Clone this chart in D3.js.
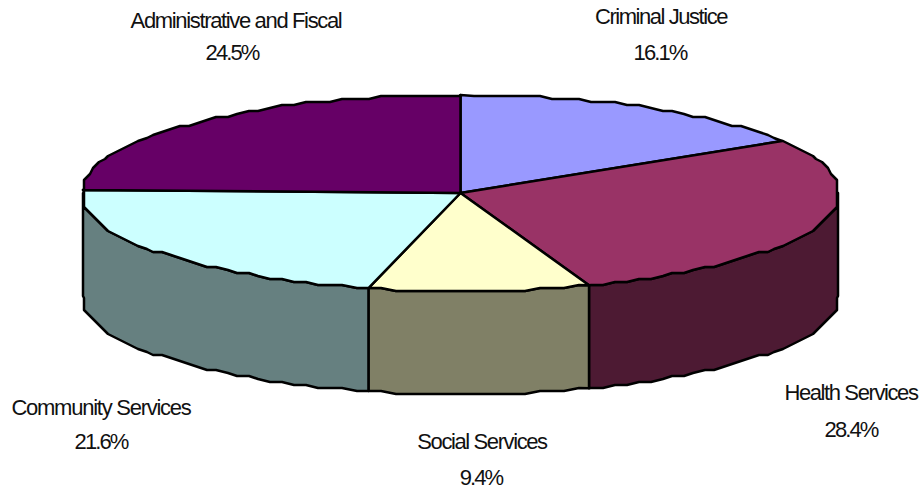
<!DOCTYPE html>
<html>
<head>
<meta charset="utf-8">
<style>
html,body{margin:0;padding:0;background:#fff}
svg{display:block}
text{font-family:"Liberation Sans",Arial,sans-serif;font-size:22px;fill:#111;text-anchor:middle}
</style>
<script src="https://cdn.jsdelivr.net/npm/d3@7"></script>
</head>
<body>
<svg id="chart" width="924" height="491"></svg>
<script>
// Spending shares by programme area, clockwise from twelve o'clock
const categories = ["Criminal Justice", "Health Services", "Social Services", "Community Services", "Administrative and Fiscal"];
const shares = [16.1, 28.4, 9.4, 21.6, 24.5];
const topColors = ["#9999ff", "#993366", "#ffffcc", "#ccffff", "#660066"];
const wallColors = ["#4d4d80", "#4d1a33", "#808066", "#668080", "#330033"];

// Label placement: centre x for each line, baselines, spacing tweaks
const labelX = [661, 851, 482, 101, 236];
const valueX = [660, 851, 481, 101, 232];
const labelY1 = [24, 400, 449, 415, 28];
const labelY2 = [60, 437, 485, 449, 60];
const labelSpacing = [-1.45, -1.4, -1.4, -1.25, -1.35];
const valueSpacing = -1.9;

const svg = d3.select("#chart");
const wallDepth = 103;
const rimWidth = 2.5;

// Unit circle projected to a flattened ellipse; the clamp gives the flat sides
const sx = d3.scaleLinear().domain([-0.995, 0.995]).range([83, 838]).clamp(true);
const sy = d3.scaleLinear().domain([-1, 1]).range([95, 291]);

const pie = d3.pie().sort(null).value(d => d);
const arcs = pie(shares);

// Coarse coordinates leave the stepped outline of the plotted disc
const grid = v => Math.round(v / 3) * 3;
const exactPoint = a => [sx(Math.sin(a)), sy(-Math.cos(a))];
const rimPoint = a => {
  const [x, y] = exactPoint(a);
  return [Math.max(83, Math.min(838, grid(x))), grid(y)];
};
// Interior samples sit on one shared angular step so neighbouring outlines coincide
const step = Math.PI / 90;
const rim = (a0, a1) => {
  const first = Math.floor(a0 / step) + 1;
  const last = Math.ceil(a1 / step) - 1;
  const inner = d3.range(first, last + 1).map(k => rimPoint(k * step));
  return [exactPoint(a0), ...inner, exactPoint(a1)];
};
const line = d3.line();
const centre = [sx(0), sy(0)];

// Visible wall segments: only the near half of the disc, pi/2 to 3pi/2
const walls = arcs
  .map((d, i) => ({i, a0: Math.max(d.startAngle, Math.PI / 2), a1: Math.min(d.endAngle, 3 * Math.PI / 2)}))
  .filter(d => d.a1 > d.a0);

svg.append("g").selectAll("path").data(walls).join("path")
  .attr("d", d => {
    const upper = rim(d.a0, d.a1);
    const lower = upper.map(([x, y]) => [x, y + wallDepth]).reverse();
    return line(upper.concat(lower)) + "Z";
  })
  .attr("fill", d => wallColors[d.i])
  .attr("stroke", "#000")
  .attr("stroke-width", rimWidth)
  .attr("stroke-linejoin", "round");

svg.append("g").selectAll("path").data(arcs).join("path")
  .attr("d", d => line([centre, ...rim(d.startAngle, d.endAngle)]) + "Z")
  .attr("fill", (d, i) => topColors[i])
  .attr("stroke", "#000")
  .attr("stroke-width", rimWidth)
  .attr("stroke-linejoin", "round");

const pct = v => v.toFixed(1) + "%";
const labels = svg.append("g").selectAll("g").data(categories).join("g");
labels.append("text")
  .attr("x", (d, i) => labelX[i]).attr("y", (d, i) => labelY1[i])
  .attr("letter-spacing", (d, i) => labelSpacing[i])
  .text(d => d);
labels.append("text")
  .attr("x", (d, i) => valueX[i]).attr("y", (d, i) => labelY2[i])
  .attr("letter-spacing", valueSpacing)
  .text((d, i) => pct(shares[i]));
</script>
</body>
</html>
